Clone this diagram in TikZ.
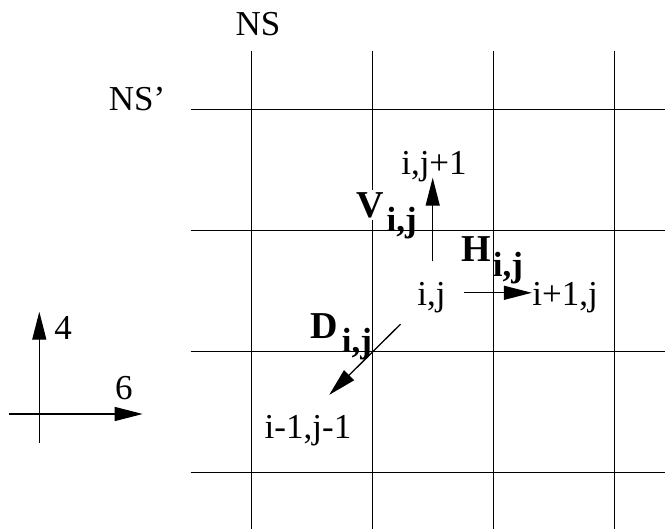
\documentclass[tikz,border=0pt]{standalone}
\usepackage{fontspec}
\setmainfont{Liberation Serif}
\usetikzlibrary{arrows.meta}

\begin{document}
\begin{tikzpicture}[x=0.5pt, y=-0.5pt,
    gridline/.style={line width=0.9pt},
    arr/.style={line width=0.65pt, -{Triangle[length=14pt, width=7pt]}},
    lbl/.style={inner sep=0pt, font=\fontsize{17.5}{21}\selectfont},
    big/.style={inner sep=1pt, fill=white, font=\fontsize{19}{22}\selectfont\bfseries},
    sub/.style={inner sep=0pt, font=\fontsize{17.5}{21}\selectfont\bfseries}]
      \useasboundingbox (0,0) rectangle (665,529);

      \foreach \x in {251.5, 372.5, 493.5, 614.5}
        \draw[gridline] (\x,50.7) -- (\x,529);
      \foreach \y in {109.5, 230.5, 351.5, 472.5}
        \draw[gridline] (190.7,\y) -- (665,\y);

      \node[lbl] (ns) at (258,24) {NS};
      \node[lbl] (nsp) at (137,99) {NS'};

      \node[lbl] (ij) at (431.5,298) {i,j};
      \node[lbl] (ijp) at (434,166.5) {i,j+1};
      \node[lbl] (ipj) at (565,298) {i+1,j};
      \node[lbl] (imjm) at (308,431) {i-1,j-1};

      \node[big] (v) at (370,205) {V};
      \node[sub] (vs) at (401.7,223) {i,j};
      \node[big] (h) at (476.3,249) {H};
      \node[sub] (hs) at (508,268) {i,j};
      \node[big, fill=none] (d) at (324.7,326) {D};
      \node[sub] (ds) at (357,344) {i,j};

      \draw[arr] ([shift={(0.6pt,10.5pt)}]ij.north) -- ([shift={(0.6pt,2.25pt)}]ij.north |- ijp.south);
      \draw[arr] ([shift={(9pt,2.6pt)}]ij.east) -- ([yshift=2.6pt]ipj.west);
      \draw[arr] ([shift={(-8.2pt,-5.2pt)}]ij.south west) -- ([shift={(10.6pt,10.2pt)}]imjm.north);

      % axes
      \coordinate (ybot) at (39.3,443);
      \coordinate (ytip) at (39.3,311.7);
      \coordinate (xleft) at (9,414);
      \coordinate (xtip) at (142.7,414);
      \draw[arr] (ybot) -- (ytip);
      \draw[arr] (xleft) -- (xtip);
      \node[lbl] (four) at (63,328) {4};
      \node[lbl] (six) at (124,388) {6};

    \end{tikzpicture}
\end{document}
